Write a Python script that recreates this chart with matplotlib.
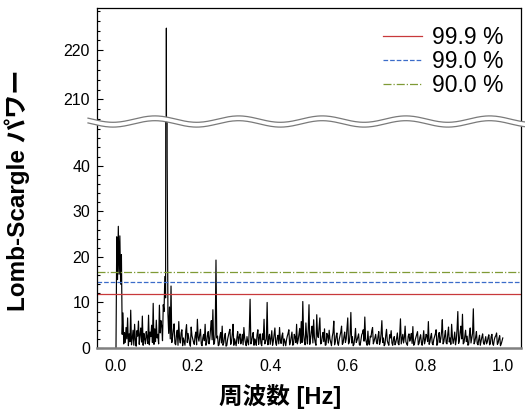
import matplotlib
matplotlib.use("Agg")
import matplotlib.pyplot as plt
import numpy as np
from matplotlib.lines import Line2D
from matplotlib.patches import Polygon

plt.rcParams['font.family'] = ['Liberation Sans', 'Noto Sans CJK JP', 'DejaVu Sans']

# periodogram sampled every 0.002 Hz from 0.002 to 1.000 Hz (one row = 0.04 Hz)
freq_start = 0.002
freq_step = 0.002
power = [
    0.0, 24.4, 15.0, 26.7, 16.2, 24.6, 14.0, 20.5, 3.0, 7.7, 0.9, 3.4, 1.2, 4.5, 2.0, 6.6, 0.5, 3.1, 1.4, 8.3,
    0.7, 2.1, 3.9, 0.6, 5.2, 1.8, 0.4, 3.8, 2.6, 5.9, 0.8, 2.9, 4.4, 1.3, 7.0, 0.6, 3.2, 1.9, 0.9, 3.6,
    2.4, 1.0, 7.2, 0.7, 3.5, 2.5, 5.0, 1.2, 9.8, 0.8, 4.2, 1.4, 6.1, 2.2, 3.0, 0.9, 9.4, 3.3, 6.0, 4.8,
    1.6, 9.5, 8.0, 15.7, 11.0, 224.5, 42.0, 7.5, 3.2, 9.0, 2.0, 13.6, 1.2, 2.4, 4.0, 5.3, 1.0, 0.7, 2.8, 3.9,
    0.6, 5.8, 2.0, 1.1, 3.3, 4.0, 0.5, 2.2, 1.4, 0.6, 3.7, 5.1, 1.2, 3.2, 2.1, 1.0, 0.4, 4.6, 2.7, 2.0,
    1.3, 0.8, 2.6, 3.5, 0.7, 6.3, 2.4, 1.5, 3.0, 4.1, 0.9, 0.5, 2.2, 3.0, 1.6, 5.2, 0.6, 1.2, 2.8, 3.6,
    0.9, 2.0, 4.2, 6.0, 1.8, 8.4, 0.8, 1.0, 3.0, 19.3, 2.2, 2.6, 0.5, 0.7, 2.5, 3.4, 1.1, 4.8, 0.6, 1.1,
    2.4, 3.2, 0.4, 0.6, 1.9, 2.7, 3.5, 4.1, 0.8, 1.3, 3.0, 5.2, 0.6, 2.0, 1.2, 0.5, 2.3, 3.6, 1.0, 2.4,
    3.1, 0.9, 1.6, 3.0, 0.7, 4.5, 2.2, 1.2, 0.5, 2.5, 1.3, 0.7, 4.0, 10.7, 0.9, 1.5, 2.6, 3.4, 0.6, 2.0,
    1.4, 0.6, 2.9, 4.0, 0.8, 2.3, 3.1, 1.0, 0.5, 3.1, 1.8, 6.3, 0.9, 1.4, 2.0, 10.0, 0.7, 2.2, 3.0, 0.8,
    2.1, 3.8, 0.6, 1.5, 3.0, 4.4, 1.1, 0.6, 2.2, 2.8, 0.9, 4.5, 1.7, 1.0, 2.6, 3.3, 0.5, 2.0, 1.4, 0.5,
    1.8, 2.6, 3.2, 4.0, 0.7, 1.3, 2.4, 3.5, 0.6, 0.8, 3.0, 2.4, 1.2, 5.2, 0.9, 1.7, 3.1, 4.3, 1.0, 5.8,
    1.2, 10.2, 3.0, 1.5, 0.7, 5.5, 2.4, 0.9, 4.1, 9.5, 0.8, 2.0, 3.6, 4.8, 1.1, 6.2, 2.3, 1.2, 0.6, 7.3,
    2.8, 2.3, 4.4, 6.6, 0.9, 1.0, 2.5, 3.4, 1.4, 4.2, 0.6, 0.7, 3.2, 2.8, 1.1, 3.9, 2.0, 1.2, 0.5, 2.5,
    3.4, 5.9, 0.7, 1.4, 2.6, 3.3, 1.0, 0.6, 1.9, 2.7, 3.5, 4.8, 0.8, 1.1, 2.4, 3.5, 1.2, 2.0, 4.3, 6.6,
    0.9, 1.3, 3.0, 7.8, 1.1, 2.5, 0.5, 0.8, 2.2, 4.3, 1.2, 1.7, 2.4, 3.1, 0.7, 0.6, 1.8, 2.9, 3.3, 4.0,
    1.5, 6.8, 2.1, 1.2, 0.6, 3.7, 1.0, 0.7, 2.6, 2.4, 3.8, 4.5, 0.9, 1.5, 2.2, 3.0, 1.3, 0.9, 2.5, 3.6,
    0.8, 1.4, 3.1, 6.0, 1.2, 2.2, 0.5, 0.8, 2.7, 4.1, 1.6, 1.0, 0.6, 2.9, 2.2, 3.8, 1.1, 0.6, 1.9, 2.5,
    0.7, 1.2, 2.1, 3.3, 1.0, 0.7, 2.8, 6.4, 0.9, 2.0, 3.0, 1.1, 2.3, 4.8, 1.4, 0.9, 0.6, 2.6, 3.1, 1.5,
    2.2, 3.2, 1.0, 4.7, 0.6, 0.8, 1.8, 2.4, 3.0, 3.6, 0.7, 1.0, 2.3, 2.9, 1.2, 0.6, 2.0, 3.8, 0.9, 1.6,
    3.0, 2.7, 1.4, 5.8, 0.8, 1.3, 2.5, 3.2, 1.0, 0.7, 1.9, 2.5, 3.1, 4.0, 0.6, 1.1, 2.8, 3.4, 1.2, 2.0,
    3.5, 6.2, 0.9, 1.4, 2.7, 3.8, 1.1, 0.9, 3.0, 4.6, 1.3, 2.2, 0.8, 5.2, 2.4, 1.0, 2.0, 3.5, 0.7, 1.8,
    4.1, 8.0, 1.0, 1.6, 3.5, 4.8, 2.0, 7.4, 0.9, 1.2, 2.6, 3.9, 1.4, 2.6, 0.6, 0.8, 3.0, 4.4, 1.1, 2.1,
    3.2, 8.6, 0.9, 1.4, 2.4, 3.6, 1.0, 0.7, 1.9, 2.8, 0.6, 1.5, 2.4, 3.1, 1.2, 0.8, 1.7, 2.5, 0.9, 1.3,
    2.3, 2.9, 0.7, 1.0, 2.5, 3.0, 0.9, 0.6, 1.8, 2.4, 2.7, 3.3, 0.8, 1.1, 2.1, 2.7, 0.5, 0.9, 1.6, 2.2,
]
freq = freq_start + freq_step * np.arange(len(power))

levels = [11.9, 14.4, 16.7]
level_labels = ['99.9 %', '99.0 %', '90.0 %']
level_colors = ['#c8393b', '#3b6cc9', '#7f9a35']
level_styles = ['-', '--', '-.']

W, H = 525, 415
fig = plt.figure(figsize=(W / 100, H / 100), dpi=100)

left, right = 97 / W, 521 / W
y_break = 1 - 121.5 / H
ax_top = fig.add_axes([left, y_break, right - left, (1 - 8 / H) - y_break])
ax_bot = fig.add_axes([left, 1 - 348 / H, right - left, y_break - (1 - 348 / H)])

for ax in (ax_top, ax_bot):
    ax.plot(freq, power, color='black', lw=0.85)
    ax.set_xlim(-0.047, 1.047)
    ax.tick_params(axis='y', which='both', direction='in', labelsize=11.5, pad=5)
    ax.tick_params(axis='y', which='major', length=4, width=0.8)
    ax.tick_params(axis='y', which='minor', length=2.3, width=0.8)
    ax.tick_params(axis='x', length=0)
    ax.yaxis.set_minor_locator(matplotlib.ticker.MultipleLocator(2))
    for s in ax.spines.values():
        s.set_linewidth(0.9)

ax_top.set_ylim(205.5, 228.6)
ax_top.set_yticks([210, 220])
ax_top.spines['bottom'].set_visible(False)
ax_top.tick_params(axis='x', labelbottom=False)

ax_bot.set_ylim(0, 49.7)
ax_bot.set_yticks([0, 10, 20, 30, 40])
ax_bot.spines['top'].set_visible(False)
ax_bot.spines['bottom'].set_color('#808080')
ax_bot.spines['bottom'].set_linewidth(1.8)
ax_bot.set_xticks([0.0, 0.2, 0.4, 0.6, 0.8, 1.0])
ax_bot.tick_params(axis='x', labelsize=11.5, pad=8)

handles = []
for lv, lab, c, ls in zip(levels, level_labels, level_colors, level_styles):
    ax_bot.axhline(lv, color=c, ls=ls, lw=0.9)
    handles.append(Line2D([], [], color=c, ls=ls, lw=0.9, label=lab))

ax_top.legend(handles=handles, loc='upper right', frameon=False, fontsize=16.5,
              handlelength=1.7, handletextpad=0.45, labelspacing=0.05,
              borderaxespad=0.3, bbox_to_anchor=(0.997, 0.985))

# wavy break band across the axes
xs = np.linspace(88, 525, 300)
yc = 121.5 + 3.2 * np.cos(2 * np.pi * (xs - 113) / 83.7)
up = 1 - (yc - 2.4) / H
lo = 1 - (yc + 2.4) / H
fx = xs / W
poly = Polygon(np.column_stack([np.r_[fx, fx[::-1]], np.r_[up, lo[::-1]]]),
               closed=True, facecolor='white', edgecolor='none',
               transform=fig.transFigure, zorder=10)
fig.add_artist(poly)
fig.add_artist(Line2D(fx, up, color='#7a7a7a', lw=0.9, transform=fig.transFigure, zorder=11))
fig.add_artist(Line2D(fx, lo, color='#7a7a7a', lw=0.9, transform=fig.transFigure, zorder=11))

fig.text(17 / W, 1 - 190 / H, 'Lomb-Scargle パワー', rotation=90, ha='center', va='center',
         fontsize=17.5, fontweight='bold')
fig.text(280 / W, 1 - 396 / H, '周波数 [Hz]', ha='center', va='center',
         fontsize=17, fontweight='bold')

fig.savefig('out.png', dpi=100)
